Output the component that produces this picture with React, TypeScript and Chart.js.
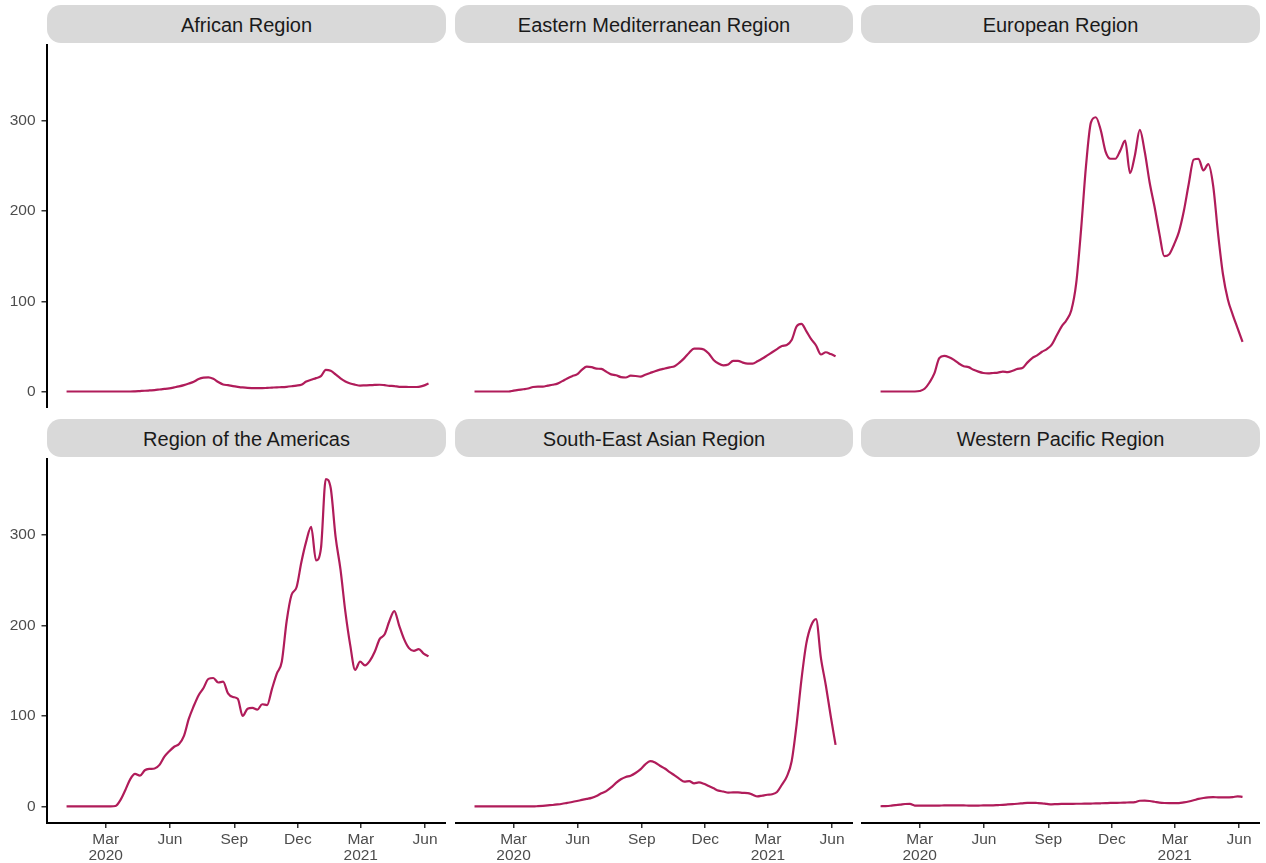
import React, { useEffect, useRef } from 'react';
import { Chart, registerables } from 'chart.js';

Chart.register(...registerables);

// Days are counted from 2020-01-01; one value per week.
const startDay = 4;
const stepDays = 7;

const regionNames = [
  'African Region',
  'Eastern Mediterranean Region',
  'European Region',
  'Region of the Americas',
  'South-East Asian Region',
  'Western Pacific Region',
];

const african = [
  0, 0, 0, 0, 0, 0, 0, 0, 0, 0, 0, 0, 0, 0,
  0.2, 0.5, 0.8, 1.2, 1.6, 2.2, 2.8, 3.5, 4.5, 5.6, 7, 8.8, 10.8, 13.8, 15.4, 15.7,
  14, 10.5, 7.8, 7, 6, 5.2, 4.5, 4, 3.8, 3.7, 3.7, 4, 4.3, 4.6, 4.8, 5.2, 5.8, 6.5,
  7.5, 11, 13, 14.8, 17, 24, 23, 19, 14.5, 11, 8.8, 7.5, 6.6, 6.8, 7, 7.3, 7.5, 7,
  6.3, 6, 5.2, 5.1, 5, 5, 5.2, 6.5, 8.9,
];

const easternMediterranean = [
  0, 0, 0, 0, 0, 0, 0, 0,
  1, 1.8, 2.5, 3.3, 5, 5.5, 5.5, 6.5, 7.5, 8.7, 11.5, 14.5, 17, 19, 24, 27.5, 27,
  25.3, 25, 22, 19, 18, 16, 15.5, 17.5, 17.2, 16.5, 18.5, 20.5, 22.5, 24.2, 25.5,
  26.8, 28, 32, 37, 43, 47.5, 47.5, 46.5, 42, 35, 31, 29, 30, 34, 34, 32, 31, 31,
  33.5, 36.5, 40, 43.5, 47, 50.5, 51.6, 57, 72, 75, 67, 58, 51, 41, 43.5, 41.5, 39,
];

const european = [
  0, 0, 0, 0, 0, 0, 0, 0,
  0.5, 3, 10, 20, 37, 39.5, 38, 35, 31, 28, 27, 24, 22, 20.5, 20, 20.5, 21, 22, 21.5,
  23, 25, 26, 32, 37, 40, 44, 47, 52, 62, 72, 79, 90, 120, 180, 250, 298, 304, 290,
  266, 258, 258, 267, 278, 242, 262, 290, 266, 232, 205, 175, 150, 152, 163, 177,
  200, 230, 257, 258, 245, 252, 228, 175, 130, 102, 85, 70, 55,
];

const americas = [
  0, 0, 0, 0, 0, 0, 0, 0, 0, 0,
  0.5, 7, 18, 30, 36, 34, 40, 41.5, 42, 46, 55, 61, 66, 69, 78, 97, 111, 123, 131,
  141, 142, 137, 138, 125, 121, 119, 100, 108, 109, 107, 113, 112, 130, 147, 160,
  205, 234, 242, 270, 293, 309, 272, 285, 362, 352, 298, 262, 215, 178, 151, 160,
  156, 161, 171, 185, 190, 205, 216, 200, 185, 175, 172, 174, 169, 166,
];

const southEastAsian = [
  0, 0, 0, 0, 0, 0, 0, 0, 0, 0, 0, 0, 0,
  0.3, 0.7, 1.2, 1.6, 2.2, 3, 4, 4.9, 6, 7.2, 8.3, 9.5, 11.5, 14.5, 17, 21, 26, 30,
  32.5, 34, 37, 41, 46.5, 50, 48.5, 45, 42, 38, 34.3, 30.5, 27.5, 28, 25.5, 26.5,
  25, 22.5, 20, 17.5, 16.5, 15.3, 15.5, 15.5, 15, 14.8, 13, 11.1, 12, 12.9, 13.5,
  16, 24, 33, 50, 90, 140, 180, 200, 207, 164, 134, 100, 68,
];

const westernPacific = [
  0.2, 0.4, 0.8, 1.5, 2, 2.7, 2.8, 1, 0.8, 0.8, 0.9, 1, 1,
  1.1, 1.1, 1.1, 1.1, 1.1, 1, 1, 1,
  1.1, 1.1, 1.2, 1.5, 1.8, 2.2, 2.6, 3, 3.5, 4, 4, 3.8, 3.5, 2.8, 2.3, 2.6, 2.8,
  2.8, 2.9, 3, 3, 3.1, 3.2, 3.3, 3.5, 3.7, 3.9, 4, 4.1, 4.3, 4.5, 4.8, 6.3, 6.4, 6,
  5.2, 4.3, 3.8, 3.7, 3.7, 3.7, 4.5, 5.5, 6.8, 8.3, 9.3, 10, 10.3, 10.1, 10, 10.1,
  10.3, 11.2, 10.5,
];

const seriesList = [african, easternMediterranean, european, americas, southEastAsian, westernPacific];

// Axis ticks
const tickDays = [60, 152, 244, 335, 425, 517];
const tickLabels: (string | string[])[] = [['Mar', '2020'], 'Jun', 'Sep', 'Dec', ['Mar', '2021'], 'Jun'];
const yTicks = [0, 100, 200, 300];
const xMin = -24;
const xMax = 547;
const yMin = -18.3;
const yMax = 385.2;

const LINE_COLOR = '#b01c5a';
const FONT = "'Liberation Sans', Arial, Helvetica, sans-serif";

const COL_LEFT = [47, 455, 861];
const COL_RIGHT = [446, 853, 1260];
const PLOT_TOP = [44, 458];
const PLOT_BOTTOM = [408, 823];
const STRIP_TOP = [5, 419];
const STRIP_H = 38;

function Panel({ index }: { index: number }) {
  const ref = useRef<HTMLCanvasElement>(null);
  const col = index % 3;
  const row = Math.floor(index / 3);
  const showY = col === 0;
  const showX = row === 1;
  const padL = showY ? 47 : 0;
  const padB = showX ? 40 : 0;
  const left = COL_LEFT[col] - padL;
  const width = COL_RIGHT[col] - left;
  const top = PLOT_TOP[row];
  const height = PLOT_BOTTOM[row] - PLOT_TOP[row] + padB;
  const values = seriesList[index];

  useEffect(() => {
    if (!ref.current) return;
    const tickFont = { family: FONT, size: 15.5, lineHeight: 1.03 };
    const noPad = (s: any) => {
      s.paddingTop = 0;
      s.paddingBottom = 0;
      s.paddingLeft = 0;
      s.paddingRight = 0;
    };
    const chart = new Chart(ref.current, {
      type: 'line',
      data: {
        datasets: [
          {
            data: values.map((v, i) => ({ x: startDay + i * stepDays, y: v })),
            borderColor: LINE_COLOR,
            borderWidth: 2.2,
            pointRadius: 0,
            cubicInterpolationMode: 'monotone',
            fill: false,
          },
        ],
      },
      options: {
        animation: false,
        responsive: false,
        maintainAspectRatio: false,
        events: [],
        layout: { padding: 0 },
        plugins: { legend: { display: false }, tooltip: { enabled: false } },
        scales: {
          x: {
            type: 'linear',
            display: showX,
            min: xMin,
            max: xMax,
            afterBuildTicks: (s: any) => {
              s.ticks = tickDays.map((v) => ({ value: v }));
            },
            afterFit: (s: any) => {
              s.height = padB;
              noPad(s);
            },
            border: { display: true, color: '#000000', width: 2 },
            grid: { drawOnChartArea: false, drawTicks: true, tickLength: 5, color: '#333333', lineWidth: 1.5 },
            ticks: {
              autoSkip: false,
              maxRotation: 0,
              minRotation: 0,
              padding: 4,
              color: '#4d4d4d',
              font: tickFont,
              callback: (_v: any, i: number) => tickLabels[i],
            },
          },
          y: {
            type: 'linear',
            display: showY,
            min: yMin,
            max: yMax,
            afterBuildTicks: (s: any) => {
              s.ticks = yTicks.map((v) => ({ value: v }));
            },
            afterFit: (s: any) => {
              s.width = padL;
              noPad(s);
            },
            border: { display: true, color: '#000000', width: 2 },
            grid: { drawOnChartArea: false, drawTicks: true, tickLength: 5.5, color: '#333333', lineWidth: 1.5 },
            ticks: {
              padding: 6,
              color: '#4d4d4d',
              font: tickFont,
              callback: (v: any) => String(v),
            },
          },
        },
      },
    } as any);
    return () => chart.destroy();
  }, []);

  return (
    <>
      <div
        style={{
          position: 'absolute',
          left: COL_LEFT[col],
          top: STRIP_TOP[row],
          width: COL_RIGHT[col] - COL_LEFT[col],
          height: STRIP_H,
          background: '#d9d9d9',
          borderRadius: 14,
          display: 'flex',
          alignItems: 'center',
          justifyContent: 'center',
          fontFamily: FONT,
          fontSize: 20,
          color: '#1a1a1a',
          whiteSpace: 'nowrap',
          boxSizing: 'border-box',
          paddingTop: 2,
        }}
      >
        {regionNames[index]}
      </div>
      <canvas
        ref={ref}
        width={width}
        height={height}
        style={{ position: 'absolute', left, top, width, height }}
      />
    </>
  );
}

export default function App() {
  return (
    <div
      style={{
        position: 'absolute',
        left: 0,
        top: 0,
        width: 1266,
        height: 863,
        background: '#ffffff',
        overflow: 'hidden',
      }}
    >
      {regionNames.map((_, i) => (
        <Panel key={i} index={i} />
      ))}
    </div>
  );
}
